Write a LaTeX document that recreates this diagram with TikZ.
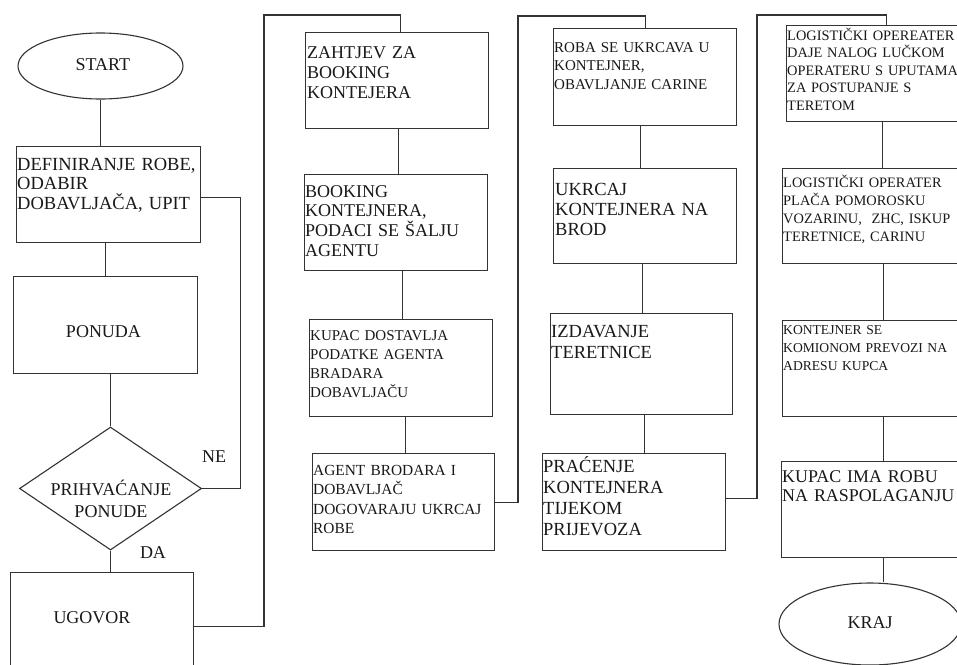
\documentclass[tikz,border=0pt]{standalone}
\usepackage{fontspec}
\setmainfont{Liberation Serif}
\usetikzlibrary{shapes.geometric}
\begin{document}
\begin{tikzpicture}[x=1pt,y=-1pt,
  ln/.style={draw=black!80, line width=1.1pt},
  box/.style={ln, rectangle, inner sep=0pt, anchor=north west},
  tx/.style={inner sep=0pt, align=left, text width=230pt, anchor=base west, text=black!90},
  tc/.style={inner sep=0pt, align=center, text width=200pt, anchor=base, text=black!90},
  ct/.style={inner sep=0pt, anchor=base, text=black!90},
  big/.style={font=\fontsize{18}{20}\selectfont},
]
\useasboundingbox (0,0) rectangle (957,664);
\fill[white] (0,0) rectangle (957,664);

% ---------- column 1 ----------
\node[ellipse, ln, minimum width=165pt, minimum height=66pt, inner sep=0pt] (start) at (100.5,66) {};
\node[ct, big] (tstart) at (102.8,70) {START};

\node[box, minimum width=184pt, minimum height=96pt] (b1) at (16,146) {};
\node[tx, font=\fontsize{18.5}{19.5}\selectfont] (t1) at (17,170) {DEFINIRANJE ROBE,\\ODABIR\\DOBAVLJAČA, UPIT};

\node[box, minimum width=184pt, minimum height=97pt] (b2) at (13,276) {};
\node[ct, big] (t2) at (103.5,337) {PONUDA};

\node[diamond, ln, minimum width=182pt, minimum height=123pt, inner sep=0pt] (d) at (110.5,488.5) {};
\node[tc, font=\fontsize{18}{22}\selectfont] (td) at (111,495) {PRIHVAĆANJE\\PONUDE};
\node[ct, big] (ne) at (214,462) {NE};
\node[ct, big] (da) at (153,558) {DA};

\node[box, minimum width=183pt, minimum height=96pt] (ug) at (10,572) {};
\node[ct, big] (tug) at (92,623) {UGOVOR};

% ---------- column 2 ----------
\node[box, minimum width=183pt, minimum height=96pt] (z) at (305,32) {};
\node[tx, font=\fontsize{18}{20}\selectfont] (tz) at (307,58) {ZAHTJEV ZA\\BOOKING\\KONTEJERA};

\node[box, minimum width=183pt, minimum height=96pt] (bk) at (304,174) {};
\node[tx, font=\fontsize{18}{19.7}\selectfont] (tbk) at (305,197) {BOOKING\\KONTEJNERA,\\PODACI SE ŠALJU\\AGENTU};

\node[box, minimum width=183pt, minimum height=97pt] (kp) at (309,319) {};
\node[tx, font=\fontsize{15}{19}\selectfont] (tkp) at (310,340) {KUPAC DOSTAVLJA\\PODATKE AGENTA\\BRADARA\\DOBAVLJAČU};

\node[box, minimum width=182pt, minimum height=97pt] (ag) at (312,453) {};
\node[tx, font=\fontsize{15.4}{19.5}\selectfont] (tag) at (313,475) {AGENT BRODARA I\\DOBAVLJAČ\\DOGOVARAJU UKRCAJ\\ROBE};

% ---------- column 3 ----------
\node[box, minimum width=183pt, minimum height=97pt] (rb) at (553,28) {};
\node[tx, font=\fontsize{15}{18.5}\selectfont] (trb) at (554,52) {ROBA SE UKRCAVA U\\KONTEJNER,\\OBAVLJANJE CARINE};

\node[box, minimum width=183pt, minimum height=95pt] (uk) at (553,168) {};
\node[tx, font=\fontsize{18.5}{20}\selectfont] (tuk) at (555,195) {UKRCAJ\\KONTEJNERA NA\\BROD};

\node[box, minimum width=182pt, minimum height=101pt] (iz) at (550,313) {};
\node[tx, font=\fontsize{18.5}{21}\selectfont] (tiz) at (551,337) {IZDAVANJE\\TERETNICE};

\node[box, minimum width=183pt, minimum height=97pt] (pr) at (542,453) {};
\node[tx, font=\fontsize{18.5}{21.3}\selectfont] (tpr) at (543,472) {PRAĆENJE\\KONTEJNERA\\TIJEKOM\\PRIJEVOZA};

% ---------- column 4 ----------
\node[box, minimum width=176pt, minimum height=96pt] (l1) at (786,25) {};
\node[tx, font=\fontsize{14.4}{17.5}\selectfont] (tl1) at (787,40) {LOGISTIČKI OPEREATER\\DAJE NALOG LUČKOM\\OPERATERU S UPUTAMA\\ZA POSTUPANJE S\\TERETOM};

\node[box, minimum width=180pt, minimum height=95pt] (l2) at (782,168) {};
\node[tx, font=\fontsize{14.4}{18.3}\selectfont] (tl2) at (783,187) {LOGISTIČKI OPERATER\\PLAČA POMOROSKU\\VOZARINU,\ \ ZHC, ISKUP\\TERETNICE, CARINU};

\node[box, minimum width=180pt, minimum height=96pt] (l3) at (782,320) {};
\node[tx, font=\fontsize{13.6}{18}\selectfont] (tl3) at (783,334) {KONTEJNER SE\\KOMIONOM PREVOZI NA\\ADRESU KUPCA};

\node[box, minimum width=181pt, minimum height=96pt] (ki) at (781,461) {};
\node[tx, font=\fontsize{17.9}{19.5}\selectfont] (tki) at (782,482) {KUPAC IMA ROBU\\NA RASPOLAGANJU};

\node[ellipse, ln, minimum width=182pt, minimum height=82pt, inner sep=0pt] (kraj) at (870,624) {};
\node[ct, big] (tkraj) at (870,628) {KRAJ};

% ---------- connectors ----------
\draw[ln] (start.south) -- (start.south |- b1.north);
\draw[ln] ([xshift=-3pt]b1.south) -- ([xshift=-3pt]b1.south |- b2.north);
\draw[ln] (d.north |- b2.south) -- (d.north);
\draw[ln] (d.south) -- (d.south |- ug.north);
\draw[ln] ([yshift=-3pt]b1.east) -- ++(39,0) |- (d.east);

\draw[ln] ([yshift=-6pt]ug.east) -| (264,15) -| ([xshift=3.5pt]z.north);
\draw[ln] ([xshift=1.5pt]z.south) -- ([xshift=1.5pt]z.south |- bk.north);
\draw[ln] ([xshift=6.5pt]bk.south) -- ([xshift=6.5pt]bk.south |- kp.north);
\draw[ln] ([xshift=4.5pt]kp.south) -- ([xshift=4.5pt]kp.south |- ag.north);

\draw[ln] (ag.east) -| (518,16) -| (rb.north);
\draw[ln] ([xshift=-4.5pt]rb.south) -- ([xshift=-4.5pt]rb.south |- uk.north);
\draw[ln] ([xshift=-2.5pt]uk.south) -- ([xshift=-2.5pt]uk.south |- iz.north);
\draw[ln] ([xshift=3pt]iz.south) -- ([xshift=3pt]iz.south |- pr.north);

\draw[ln] ([yshift=3.5pt]pr.east) -| (757,15) -| ([xshift=12pt]l1.north);
\draw[ln] ([xshift=8pt]l1.south) -- ([xshift=8pt]l1.south |- l2.north);
\draw[ln] ([xshift=11pt]l2.south) -- ([xshift=11pt]l2.south |- l3.north);
\draw[ln] ([xshift=11pt]l3.south) -- ([xshift=11pt]l3.south |- ki.north);
\draw[ln] ([xshift=11.5pt]ki.south) -- ([xshift=11.5pt]ki.south |- kraj.north);
\end{tikzpicture}
\end{document}
